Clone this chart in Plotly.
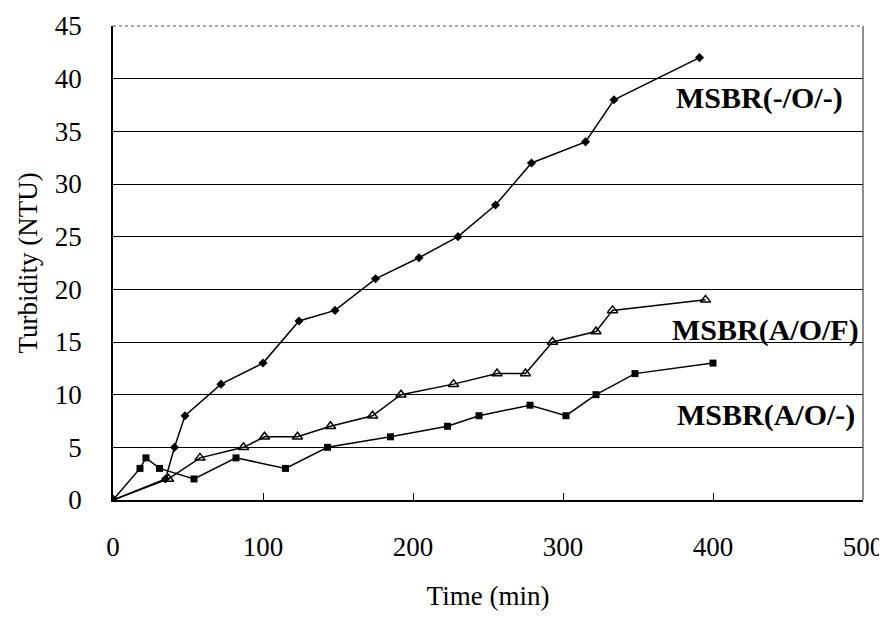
import plotly.graph_objects as go

# MSBR(-/O/-)  (filled diamonds)
t_ono = [0, 35, 41, 48, 72, 100, 124, 148, 175, 204, 230, 255, 279, 315, 334, 391]
y_ono = [0, 2, 5, 8, 11, 13, 17, 18, 21, 23, 25, 28, 32, 34, 38, 42]

# MSBR(A/O/F)  (open triangles)
t_aof = [0, 37, 58, 87, 101, 123, 145, 173, 192, 227, 256, 275, 293, 322, 333, 395]
y_aof = [0, 2, 4, 5, 6, 6, 7, 8, 10, 11, 12, 12, 15, 16, 18, 19]

# MSBR(A/O/-)  (filled squares)
t_ao = [0, 18, 22, 31, 54, 82, 115, 143, 185, 223, 244, 278, 302, 322, 348, 400]
y_ao = [0, 3, 4, 3, 2, 4, 3, 5, 6, 7, 8, 9, 8, 10, 12, 13]

labels = ["MSBR(-/O/-)", "MSBR(A/O/F)", "MSBR(A/O/-)"]
x_ticks = [0, 100, 200, 300, 400, 500]
y_ticks = [0, 5, 10, 15, 20, 25, 30, 35, 40, 45]

FONT = "Liberation Serif, Times New Roman, Times, serif"
TICKFONT = dict(family=FONT, size=27, color="black")

fig = go.Figure()
fig.add_trace(go.Scatter(x=t_ono, y=y_ono, mode="lines+markers", name=labels[0],
                         line=dict(color="black", width=1.5),
                         marker=dict(symbol="diamond", size=7, color="black")))
fig.add_trace(go.Scatter(x=t_aof, y=y_aof, mode="lines+markers", name=labels[1],
                         line=dict(color="black", width=1.5),
                         marker=dict(symbol="triangle-up-open", size=9, color="black",
                                     line=dict(width=1.5, color="black"))))
fig.add_trace(go.Scatter(x=t_ao, y=y_ao, mode="lines+markers", name=labels[2],
                         line=dict(color="black", width=1.5),
                         marker=dict(symbol="square", size=7, color="black")))

ann_pos = [(431, 38.2), (435, 16.1), (435, 8.1)]
for lab, (ax, ay) in zip(labels, ann_pos):
    fig.add_annotation(x=ax, y=ay, text="<b>%s</b>" % lab, showarrow=False,
                       font=dict(family=FONT, size=30, color="black"))

# top (dotted) and right borders
fig.add_shape(type="line", xref="paper", yref="paper", x0=0, x1=1, y0=1, y1=1,
              line=dict(color="#555555", width=1.2, dash="dot"))
fig.add_shape(type="line", xref="paper", yref="paper", x0=1, x1=1, y0=0, y1=1,
              line=dict(color="#444444", width=1.2))

fig.update_layout(
    width=879, height=609,
    margin=dict(l=105, r=24, t=18, b=117),
    paper_bgcolor="white", plot_bgcolor="white",
    showlegend=False,
    font=dict(family=FONT, size=27, color="black"),
    xaxis=dict(range=[0, 500], tickvals=x_ticks, ticktext=[str(v) for v in x_ticks],
               automargin=False, tickfont=TICKFONT,
               showgrid=False, zeroline=False, showline=True, linecolor="black", linewidth=1.5,
               ticks="inside", ticklen=7, tickcolor="black",
               ticklabelstandoff=22,
               title=dict(text="Time (min)", font=dict(family=FONT, size=27), standoff=25)),
    yaxis=dict(range=[0, 45], tickvals=y_ticks, ticktext=[str(v) for v in y_ticks],
               automargin=False, tickfont=TICKFONT,
               showgrid=True, gridcolor="black", gridwidth=1,
               zeroline=False, showline=True, linecolor="black", linewidth=1.5,
               ticks="", ticklabelstandoff=24,
               title=dict(text="Turbidity (NTU)", font=dict(family=FONT, size=27), standoff=9)),
)

fig.write_html("out.html")
